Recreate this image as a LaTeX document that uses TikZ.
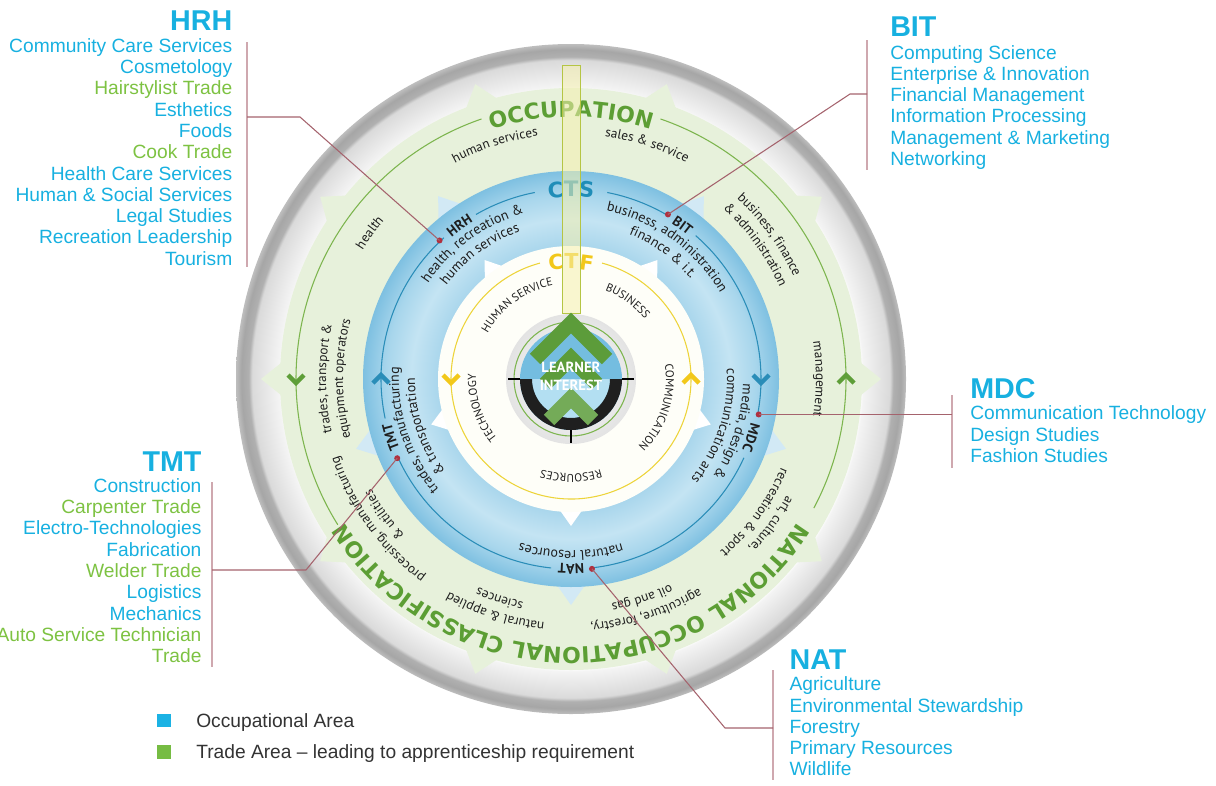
\documentclass[tikz,border=0pt]{standalone}
\usepackage{fontspec}
\setmainfont{Liberation Sans}
\newfontfamily\ringsf{PT Sans}
\newfontfamily\heavysf{DejaVu Sans}
\usetikzlibrary{positioning,calc,decorations.text}

\definecolor{occblue}{HTML}{17B0E0}
\definecolor{trade}{HTML}{7DC242}
\definecolor{leader}{HTML}{A5636D}
\definecolor{bracket}{HTML}{CFA8AF}
\definecolor{dotred}{HTML}{B0303F}
\definecolor{nocgreen}{HTML}{5C9E34}
\definecolor{greenband}{HTML}{E7F1DB}
\definecolor{greenline}{HTML}{7DB54E}
\definecolor{greenchev}{HTML}{5E9E38}
\definecolor{bluetab}{HTML}{D2E9F5}
\definecolor{ctsblue}{HTML}{1F8DB8}
\definecolor{ctsline}{HTML}{2A8DB8}
\definecolor{ctfyellow}{HTML}{F2C81A}
\definecolor{ctfline}{HTML}{EDD43A}
\definecolor{ctfdisk}{HTML}{FEFEF8}
\definecolor{ctfbar}{HTML}{F5F0AE}
\definecolor{learnblue}{HTML}{74BDE0}
\definecolor{learnpale}{HTML}{B3DFF2}
\definecolor{learngreen}{HTML}{5C9C3A}
\definecolor{ringtext}{HTML}{1E1E1E}
\definecolor{legendtext}{HTML}{333333}
\definecolor{legcyan}{HTML}{1BB2E4}
\definecolor{leggreen}{HTML}{76BC43}
\definecolor{rimA}{HTML}{F4F4F4}
\definecolor{rimB}{HTML}{DADADA}
\definecolor{rimC}{HTML}{B0B0B0}
\definecolor{rimD}{HTML}{A6A6A6}
\definecolor{rimE}{HTML}{BEBEBE}
\definecolor{blueA}{HTML}{A9D6EC}
\definecolor{blueB}{HTML}{C4E4F3}
\definecolor{blueC}{HTML}{A8D6EC}
\definecolor{blueD}{HTML}{7EC0E1}

\pgfdeclareradialshading{greyrim}{\pgfpoint{0bp}{0bp}}{color(0bp)=(white); color(21.6bp)=(white); color(21.8bp)=(rimA); color(23.8bp)=(rimB); color(24.05bp)=(rimC); color(24.6bp)=(rimD); color(25bp)=(rimE); color(50bp)=(rimE)}
\pgfdeclareradialshading{bluering}{\pgfpoint{0bp}{0bp}}{color(0bp)=(white); color(15.9bp)=(blueA); color(19.2bp)=(blueB); color(22.2bp)=(blueC); color(25bp)=(blueD); color(50bp)=(blueD)}

\newcommand{\ringfont}{\ringsf\fontsize{10}{12}\selectfont\color{ringtext}}
\newcommand{\ctsfont}{\ringsf\fontsize{10.5}{12}\selectfont\color{ringtext}}
\newcommand{\ringlabel}{\ringsf\bfseries\fontsize{10.5}{12}\selectfont\color{ringtext}}
\newcommand{\ctffont}{\ringsf\fontsize{8.6}{10}\selectfont\color{ringtext}}
\newcommand{\heavyfont}{\heavysf\bfseries\fontsize{16.5}{18}\selectfont}
% text set clockwise on an arc: angle, radius, half span, text
\newcommand{\arctext}[4]{%
  \path[decorate,decoration={text along path,text align=center,text={#4}}]
    ({#1+#3}:#2) arc[start angle={#1+#3},end angle={#1-#3},radius=#2];}

\begin{document}
\begin{tikzpicture}[x=0.75pt,y=0.75pt,
  leader/.style={draw=leader,line width=0.8pt},
  bracket/.style={draw=bracket,line width=1.1pt},
  dot/.style={circle,fill=dotred,inner sep=0pt,minimum size=4.5pt},
  head/.style={font=\fontsize{21.5}{24}\selectfont\bfseries,text=occblue,inner sep=0pt},
  list/.style={font=\fontsize{14.4}{15.94}\selectfont,text=occblue,inner sep=0pt},
  legtext/.style={font=\fontsize{14.4}{16}\selectfont,text=legendtext,inner sep=0pt},
  legsq/.style={inner sep=0pt,minimum size=10pt},
  chev/.style={line width=3.2pt},
  bigchev/.style={line width=11pt,draw=learngreen},
  learner/.style={font=\ringsf\bfseries\fontsize{11}{12}\selectfont,text=white,inner sep=0pt}]
\useasboundingbox (0,0) rectangle (1216,-785);

\begin{scope}[shift={(571,-379)}]
% grey rim
\shade[shading=greyrim] (0,0) circle (335);
% occupation ring and its tabs
\foreach \a in {0,36,...,324}
  \fill[greenband] ({\a+3.6}:288) -- (\a:310) -- ({\a-3.6}:288) -- cycle;
\fill[greenband] (0,0) circle (291);
% cts ring
\foreach \a in {126,54,-18,-90,-162}
  \fill[bluetab] ({\a+4.5}:204) -- (\a:226) -- ({\a-4.5}:204) -- cycle;
\shade[shading=bluering] (0,0) circle (208);
% ctf disk
\foreach \a in {126,54,-18,-90,-162}
  \fill[white] ({\a+5.5}:130) -- (\a:147) -- ({\a-5.5}:130) -- cycle;
\fill[ctfdisk] (0,0) circle (133);

% the three guide circles
\draw[greenline,line width=0.8pt] (-28:275) arc[start angle=-28,end angle=71,radius=275];
\draw[greenline,line width=0.8pt] (109:275) arc[start angle=109,end angle=212,radius=275];
\draw[ctsline,line width=0.8pt] (101:190) arc[start angle=101,end angle=120,radius=190];
\draw[ctsline,line width=0.8pt] (132:190) arc[start angle=132,end angle=192,radius=190];
\draw[ctsline,line width=0.8pt] (204:190) arc[start angle=204,end angle=264,radius=190];
\draw[ctsline,line width=0.8pt] (-84:190) arc[start angle=-84,end angle=-24.5,radius=190];
\draw[ctsline,line width=0.8pt] (-11.5:190) arc[start angle=-11.5,end angle=49,radius=190];
\draw[ctsline,line width=0.8pt] (59:190) arc[start angle=59,end angle=79,radius=190];
\draw[ctfline,line width=0.8pt] (105:120) arc[start angle=105,end angle=435,radius=120];

% direction marks
\draw[chev,greenchev,shift={(180:275)}] (-8,4) -- (0,-4) -- (8,4);
\draw[chev,greenchev,shift={(0:275)}] (-8,-4) -- (0,4) -- (8,-4);
\draw[chev,ctsline,shift={(180:190)}] (-8,-4) -- (0,4) -- (8,-4);
\draw[chev,ctsline,shift={(0:190)}] (-8,4) -- (0,-4) -- (8,4);
\draw[chev,ctfyellow,shift={(180:120)}] (-8,4) -- (0,-4) -- (8,4);
\draw[chev,ctfyellow,shift={(0:120)}] (-8,-4) -- (0,4) -- (8,-4);

% ring titles
\arctext{90}{262}{40}{|\heavyfont\color{nocgreen}|OCCUPATION}
\arctext{-90}{268}{75}{|\heavyfont\color{nocgreen}|NATIONAL OCCUPATIONAL CLASSIFICATION}
\arctext{90}{182}{25}{|\heavysf\bfseries\fontsize{16}{17}\selectfont\color{ctsblue}|CTS}
\arctext{90}{110}{30}{|\heavysf\bfseries\fontsize{15.5}{17}\selectfont\color{ctfyellow}|CTF}

% occupation ring
\arctext{108}{245}{40}{|\ringfont|human services}
\arctext{72}{245}{40}{|\ringfont|sales {\&} service}
\arctext{36}{245}{40}{|\ringfont|business, finance}
\arctext{36}{228}{40}{|\ringfont|{\&} administration}
\arctext{0}{245}{40}{|\ringfont|management}
\arctext{-36}{245}{40}{|\ringfont|art, culture,}
\arctext{-36}{228}{40}{|\ringfont|recreation {\&} sport}
\arctext{-72}{245}{40}{|\ringfont|agriculture, forestry,}
\arctext{-72}{228}{40}{|\ringfont|oil and gas}
\arctext{-108}{245}{40}{|\ringfont|natural {\&} applied}
\arctext{-108}{228}{40}{|\ringfont|sciences}
\arctext{-144}{245}{40}{|\ringfont|processing, manufacturing}
\arctext{-144}{228}{40}{|\ringfont|{\&} utilities}
\arctext{180}{245}{40}{|\ringfont|trades, transport {\&}}
\arctext{180}{228}{40}{|\ringfont|equipment operators}
\arctext{144}{245}{40}{|\ringfont|health}

% cts ring
\arctext{126}{185}{30}{|\ringlabel|HRH}
\arctext{126}{172}{45}{|\ctsfont|health, recreation {\&}}
\arctext{126}{156}{45}{|\ctsfont|human services}
\arctext{54}{185}{30}{|\ringlabel|BIT}
\arctext{54}{172}{45}{|\ctsfont|business, administration}
\arctext{54}{156}{45}{|\ctsfont|finance {\&} i.t.}
\arctext{-18}{185}{30}{|\ringlabel|MDC}
\arctext{-18}{172}{45}{|\ctsfont|media, design {\&}}
\arctext{-18}{156}{45}{|\ctsfont|communication arts}
\arctext{-90}{185}{30}{|\ringlabel|NAT}
\arctext{-90}{172}{45}{|\ctsfont|natural resources}
\arctext{-162}{185}{30}{|\ringlabel|TMT}
\arctext{-162}{172}{45}{|\ctsfont|trades, manufacturing}
\arctext{-162}{156}{45}{|\ctsfont|{\&} transportation}

% ctf disk
\arctext{126}{95}{60}{|\ctffont|HUMAN SERVICE}
\arctext{54}{95}{60}{|\ctffont|BUSINESS}
\arctext{-18}{95}{60}{|\ctffont|COMMUNICATION}
\arctext{-90}{95}{60}{|\ctffont|RESOURCES}
\arctext{-162}{95}{60}{|\ctffont|TECHNOLOGY}

% the vertical bar
\fill[ctfbar,opacity=0.55] (-9,66) rectangle (9,314);
\draw[ctfline!50!greenline,line width=0.5pt] (-9,66) rectangle (9,314);

% learner interest
\shade[inner color=white,outer color=gray!22] (0,0) circle (65);
\draw[greenline,line width=0.8pt] (0,0) circle (57);
\fill[learnblue] (0,0) circle (51);
\fill[learnpale] (180:39) arc[start angle=180,end angle=360,radius=39] -- cycle;
\fill[black!88] (180:51) arc[start angle=180,end angle=360,radius=51] -- (0:39) arc[start angle=0,end angle=-180,radius=39] -- cycle;
\draw[line width=0.8pt] (180:51) -- (180:63);
\draw[line width=0.8pt] (0:51) -- (0:63);
\draw[line width=0.8pt] (-90:51) -- (-90:64);
\draw[bigchev] (-36,20) -- (0,56) -- (36,20);
\draw[bigchev] (-26,-5) -- (0,21) -- (26,-5);
\draw[bigchev,draw=learngreen!85!white] (-22,-41) -- (0,-19) -- (22,-41);
\node[learner] (learn) at (0,12) {LEARNER};
\node[learner] (interest) at (0,-6) {INTEREST};

% pins on the cts circle
\node[dot] (hrhdot) at (133.5:191) {};
\node[dot] (bitdot) at (59.5:191) {};
\node[dot] (mdcdot) at (-10.7:191) {};
\node[dot] (natdot) at (-83.7:191) {};
\node[dot] (tmtdot) at (-155.5:191) {};
\end{scope}

% brackets and leaders
\coordinate (hrhtop) at (247,-42);
\coordinate (hrhbot) at (247,-267);
\coordinate (hrhbend) at (300,-117);
\draw[bracket] (hrhtop) -- (hrhbot);
\draw[leader] (hrhdot.center) -- (hrhbend) -- (hrhbend -| hrhtop);

\coordinate (bittop) at (867,-40);
\coordinate (bitbot) at (867,-170);
\coordinate (bitbend) at (850,-94);
\draw[bracket] (bittop) -- (bitbot);
\draw[leader] (bitdot.center) -- (bitbend) -- (bitbend -| bittop);

\coordinate (mdctop) at (952,-395);
\coordinate (mdcbot) at (952,-468);
\draw[bracket] (mdctop) -- (mdcbot);
\draw[leader] (mdcdot.center) -- (mdcdot -| mdctop);

\coordinate (tmttop) at (212,-482);
\coordinate (tmtbot) at (212,-667);
\coordinate (tmtbend) at (306,-570);
\draw[bracket] (tmttop) -- (tmtbot);
\draw[leader] (tmtdot.center) -- (tmtbend) -- (tmtbend -| tmttop);

\coordinate (nattop) at (773,-670);
\coordinate (natbot) at (773,-780);
\coordinate (natbend) at (725,-728);
\draw[bracket] (nattop) -- (natbot);
\draw[leader] (natdot.center) -- (natbend) -- (natbend -| nattop);

% programme lists
\node[head,anchor=base east] (hrhhead) at (232.5,-30.7) {HRH};
\node[list,align=right,anchor=north east] (hrhlist) at (232.5,-38.3) {Community Care Services\\Cosmetology\\\textcolor{trade}{Hairstylist Trade}\\Esthetics\\Foods\\\textcolor{trade}{Cook Trade}\\Health Care Services\\Human \& Social Services\\Legal Studies\\Recreation Leadership\\Tourism};

\node[head,anchor=base west] (bithead) at (890,-36.7) {BIT};
\node[list,align=left,anchor=north west] (bitlist) at (890,-45) {Computing Science\\Enterprise \& Innovation\\Financial Management\\Information Processing\\Management \& Marketing\\Networking};

\node[head,anchor=base west] (mdchead) at (970,-398.3) {MDC};
\node[list,align=left,anchor=north west] (mdclist) at (970,-405.7) {Communication Technology\\Design Studies\\Fashion Studies};

\node[head,anchor=base east] (tmthead) at (201.7,-471.7) {TMT};
\node[list,align=right,anchor=north east] (tmtlist) at (201.7,-478.3) {Construction\\\textcolor{trade}{Carpenter Trade}\\Electro-Technologies\\Fabrication\\\textcolor{trade}{Welder Trade}\\Logistics\\Mechanics\\\textcolor{trade}{Auto Service Technician}\\\textcolor{trade}{Trade}};

\node[head,anchor=base west] (nathead) at (789.3,-669.3) {NAT};
\node[list,align=left,anchor=north west] (natlist) at (789.3,-676.7) {Agriculture\\Environmental Stewardship\\Forestry\\Primary Resources\\Wildlife};

% legend
\node[legsq,fill=legcyan] (occsq) at (164,-720.5) {};
\node[legtext,anchor=base west] (occtxt) at (196,-727.7) {Occupational Area};
\node[legsq,fill=leggreen] (tradesq) at (164,-752) {};
\node[legtext,anchor=base west] (tradetxt) at (196,-758.3) {Trade Area – leading to apprenticeship requirement};
\end{tikzpicture}
\end{document}
